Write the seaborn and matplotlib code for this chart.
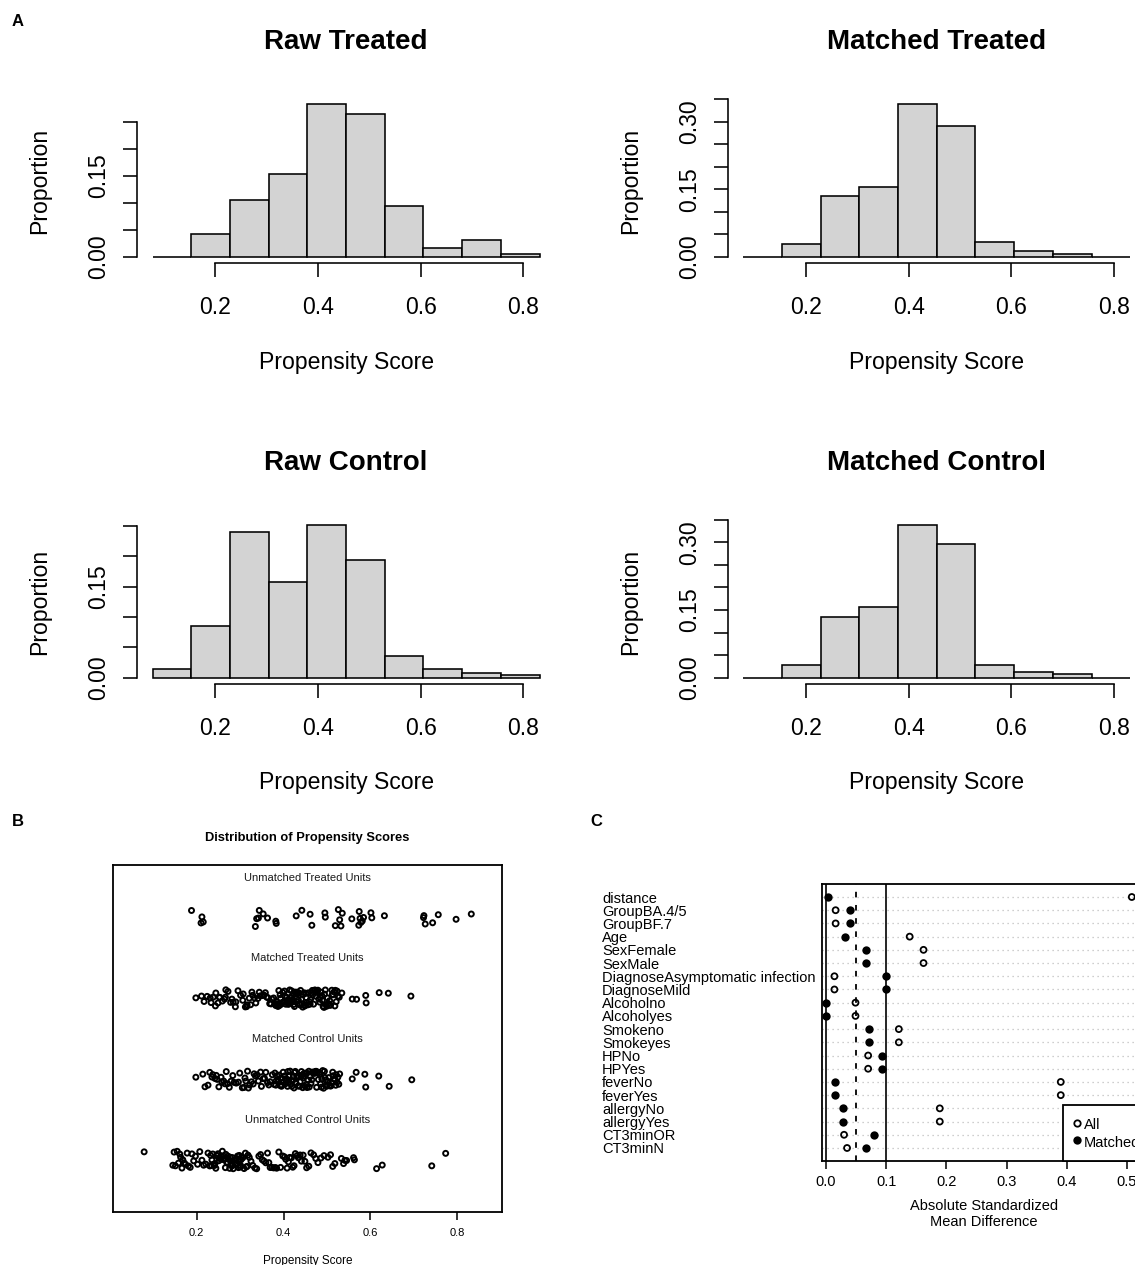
import numpy as np
import pandas as pd
import matplotlib
matplotlib.use("Agg")
import matplotlib.pyplot as plt
import seaborn as sns
from matplotlib.lines import Line2D

sns.set_theme(style="ticks")
plt.rcParams.update({
    "font.family": ["Liberation Sans", "DejaVu Sans"],
    "axes.edgecolor": "black", "xtick.color": "black", "ytick.color": "black",
    "text.color": "black", "axes.labelcolor": "black",
})

# ---------------- data ----------------
score_range = [0.078, 0.8315]   # min / max propensity score = histogram break range
raw_treated     = [0.000, 0.042, 0.106, 0.153, 0.283, 0.265, 0.095, 0.016, 0.032, 0.005]
matched_treated = [0.000, 0.0275, 0.135, 0.156, 0.339, 0.290, 0.033, 0.0134, 0.0074, 0.000]
raw_control     = [0.014, 0.086, 0.239, 0.157, 0.251, 0.193, 0.036, 0.014, 0.0075, 0.0045]
matched_control = [0.000, 0.028, 0.135, 0.156, 0.338, 0.297, 0.028, 0.014, 0.008, 0.000]
hist_titles = ["Raw Treated", "Matched Treated", "Raw Control", "Matched Control"]
hist_xticks = [0.2, 0.4, 0.6, 0.8]

unmatched_treated_ps = [0.188, 0.210, 0.212, 0.215, 0.335, 0.338, 0.342, 0.344, 0.353, 0.363,
                        0.382, 0.383, 0.429, 0.442, 0.461, 0.465, 0.495, 0.496, 0.519, 0.526,
                        0.529, 0.532, 0.535, 0.557, 0.573, 0.574, 0.576, 0.578, 0.581, 0.584,
                        0.601, 0.603, 0.632, 0.722, 0.723, 0.726, 0.743, 0.756, 0.797, 0.832]
matched_treated_ps = [0.198, 0.211, 0.217, 0.224,
                      0.231, 0.233, 0.238, 0.243, 0.244, 0.249, 0.252, 0.253, 0.259, 0.264,
                      0.266, 0.267, 0.272, 0.278, 0.281, 0.284, 0.289, 0.290, 0.295, 0.301,
                      0.306, 0.307, 0.312, 0.315, 0.316, 0.321, 0.324, 0.327, 0.329, 0.333,
                      0.336, 0.341, 0.344, 0.346, 0.351, 0.355, 0.358, 0.361, 0.364, 0.368,
                      0.371, 0.373, 0.377,
                      0.381, 0.382, 0.384, 0.386, 0.387, 0.389, 0.391, 0.392, 0.393, 0.395,
                      0.397, 0.398, 0.401, 0.402, 0.403, 0.405, 0.407, 0.408, 0.409, 0.411,
                      0.413, 0.414, 0.416, 0.417, 0.418, 0.421, 0.422, 0.423, 0.425, 0.426,
                      0.428, 0.429, 0.431, 0.432, 0.434, 0.435, 0.436, 0.438, 0.439, 0.441,
                      0.442, 0.444, 0.445, 0.447, 0.448, 0.449, 0.451, 0.452, 0.454,
                      0.456, 0.457, 0.459, 0.461, 0.462, 0.464, 0.466, 0.467, 0.469, 0.471,
                      0.472, 0.474, 0.476, 0.477, 0.479, 0.481, 0.483, 0.484, 0.486, 0.488,
                      0.489, 0.491, 0.493, 0.494, 0.496, 0.498, 0.499, 0.501, 0.503, 0.505,
                      0.506, 0.508, 0.511, 0.512, 0.514, 0.516, 0.518, 0.519, 0.521, 0.523,
                      0.525, 0.528,
                      0.534, 0.558, 0.568, 0.589, 0.590, 0.620, 0.641, 0.693]
matched_control_ps = [0.198, 0.214, 0.219, 0.226,
                      0.230, 0.235, 0.237, 0.242, 0.245, 0.247, 0.251, 0.256, 0.258, 0.262,
                      0.265, 0.268, 0.271, 0.275, 0.279, 0.283, 0.286, 0.291, 0.296, 0.299,
                      0.305, 0.309, 0.311, 0.313, 0.317, 0.319, 0.322, 0.326, 0.330, 0.332,
                      0.335, 0.339, 0.342, 0.347, 0.349, 0.353, 0.356, 0.359, 0.363, 0.366,
                      0.369, 0.374, 0.378,
                      0.380, 0.382, 0.383, 0.385, 0.387, 0.388, 0.390, 0.392, 0.394, 0.395,
                      0.396, 0.399, 0.400, 0.402, 0.404, 0.405, 0.406, 0.409, 0.410, 0.412,
                      0.413, 0.415, 0.416, 0.418, 0.419, 0.420, 0.422, 0.424, 0.425, 0.427,
                      0.429, 0.430, 0.432, 0.433, 0.435, 0.437, 0.438, 0.440, 0.441, 0.443,
                      0.444, 0.446, 0.447, 0.448, 0.450, 0.451, 0.452, 0.453, 0.454,
                      0.456, 0.458, 0.459, 0.461, 0.463, 0.465, 0.466, 0.468, 0.470, 0.471,
                      0.473, 0.475, 0.476, 0.478, 0.480, 0.482, 0.483, 0.485, 0.487, 0.488,
                      0.490, 0.492, 0.494, 0.495, 0.497, 0.499, 0.500, 0.502, 0.504, 0.506,
                      0.507, 0.509, 0.511, 0.513, 0.514, 0.516, 0.518, 0.520, 0.521, 0.523,
                      0.525, 0.527, 0.529,
                      0.558, 0.567, 0.587, 0.589, 0.619, 0.643, 0.695]
unmatched_control_ps = [0.079, 0.145, 0.148, 0.151,
                        0.155, 0.158, 0.161, 0.163, 0.166, 0.168, 0.171, 0.174, 0.178, 0.181,
                        0.185, 0.189, 0.193, 0.197, 0.202, 0.207, 0.212, 0.216, 0.221, 0.226,
                        0.230, 0.232, 0.234, 0.235, 0.237, 0.239, 0.241, 0.242, 0.244, 0.246,
                        0.247, 0.249, 0.251, 0.252, 0.254, 0.256, 0.257, 0.259, 0.261, 0.262,
                        0.264, 0.266, 0.267, 0.269, 0.271, 0.272, 0.274, 0.276, 0.277, 0.279,
                        0.281, 0.282, 0.284, 0.286, 0.287, 0.289, 0.291, 0.292, 0.294, 0.296,
                        0.297, 0.298, 0.299, 0.300, 0.301, 0.302, 0.303,
                        0.306, 0.309, 0.312, 0.314, 0.316, 0.318, 0.321, 0.325, 0.329, 0.334,
                        0.338, 0.343, 0.347, 0.351, 0.355, 0.359, 0.363, 0.366, 0.369, 0.373,
                        0.377,
                        0.381, 0.384, 0.389, 0.393, 0.398, 0.402, 0.405, 0.408, 0.411, 0.414,
                        0.418, 0.421, 0.424, 0.427, 0.431, 0.434, 0.438, 0.441, 0.445, 0.449,
                        0.453,
                        0.458, 0.463, 0.469, 0.474, 0.479, 0.486, 0.493, 0.502, 0.508, 0.513,
                        0.518,
                        0.533, 0.538, 0.541, 0.545, 0.561, 0.563, 0.614, 0.627, 0.741, 0.773]
jitter_groups = ["Unmatched Treated Units", "Matched Treated Units",
                 "Matched Control Units", "Unmatched Control Units"]
jitter_xticks = [0.2, 0.4, 0.6, 0.8]

covariates = ["distance", "GroupBA.4/5", "GroupBF.7", "Age", "SexFemale", "SexMale",
              "DiagnoseAsymptomatic infection", "DiagnoseMild", "Alcoholno", "Alcoholyes",
              "Smokeno", "Smokeyes", "HPNo", "HPYes", "feverNo", "feverYes",
              "allergyNo", "allergyYes", "CT3minOR", "CT3minN"]
smd_all = [0.508, 0.016, 0.016, 0.139, 0.162, 0.162, 0.014, 0.014, 0.049, 0.049,
           0.121, 0.121, 0.070, 0.070, 0.390, 0.390, 0.189, 0.189, 0.030, 0.035]
smd_matched = [0.003, 0.040, 0.040, 0.032, 0.067, 0.067, 0.099, 0.099, 0.000, 0.000,
               0.071, 0.071, 0.093, 0.093, 0.015, 0.015, 0.028, 0.028, 0.080, 0.066]
love_xticks = [0.0, 0.1, 0.2, 0.3, 0.4, 0.5]
threshold_dashed = 0.05
threshold_solid = 0.1

# ---------------- figure ----------------
W, H = 1135, 1265
fig = plt.figure(figsize=(W / 100, H / 100), dpi=100)
fig.patch.set_facecolor("white")


def px_axes(l, t, r, b):
    return fig.add_axes([l / W, 1 - b / H, (r - l) / W, (b - t) / H])


# ---------- Panel A: histograms ----------
edges = [float(e) for e in np.linspace(score_range[0], score_range[1], 11)]
mids = [(a + b) / 2 for a, b in zip(edges[:-1], edges[1:])]
span = score_range[1] - score_range[0]
hist_data = [raw_treated, matched_treated, raw_control, matched_control]
col_left = [137.2, 727.9]
row_top = [98.0, 519.0]
AX_W, AX_H = 417.8, 165.0
FS = 16.6
LW = 1.15

for i, (props, title) in enumerate(zip(hist_data, hist_titles)):
    r, c = divmod(i, 2)
    l, t = col_left[c], row_top[r]
    ax = px_axes(l, t, l + AX_W, t + AX_H)
    hdf = pd.DataFrame({"score": mids, "prop": props})
    sns.histplot(data=hdf, x="score", weights="prop", bins=edges, ax=ax, color="#D3D3D3",
                 edgecolor="black", linewidth=LW, alpha=1.0)
    ymax = max(props)
    ax.set_xlim(score_range[0] - 0.04 * span, score_range[1] + 0.04 * span)
    ax.set_ylim(-0.04 * ymax, 1.04 * ymax)
    n_ticks = int(np.floor(1.04 * ymax / 0.05 + 1e-9)) + 1
    yt = [k * 0.05 for k in range(n_ticks)]
    ax.set_yticks(yt)
    ax.set_yticklabels([f"{v:.2f}" if k % 3 == 0 else "" for k, v in enumerate(yt)])
    ax.set_xticks(hist_xticks)
    ax.set_xticklabels([f"{v:.1f}" for v in hist_xticks])
    sns.despine(ax=ax)
    ax.spines["left"].set_bounds(0, yt[-1])
    ax.spines["bottom"].set_bounds(hist_xticks[0], hist_xticks[-1])
    for s in ("left", "bottom"):
        ax.spines[s].set_linewidth(LW)
    ax.tick_params(axis="both", length=10, width=LW, labelsize=FS, direction="out")
    ax.tick_params(axis="x", pad=14)
    ax.tick_params(axis="y", pad=9.4)
    for lab in ax.get_yticklabels():
        lab.set_rotation(90)
        lab.set_va("center")
    ax.set_xlabel("Propensity Score", fontsize=FS)
    ax.xaxis.set_label_coords(0.5, -0.6)
    ax.xaxis.label.set_va("center")
    ax.set_ylabel("Proportion", fontsize=FS)
    ax.yaxis.set_label_coords(-0.2326, 0.5)
    ax.yaxis.label.set_va("center")
    ax.set_title(title, fontsize=20, fontweight="bold", y=1 + 56 / AX_H, pad=0,
                 verticalalignment="center")

# ---------- Panel B: jitter plot ----------
jit_df = pd.DataFrame({
    "score": unmatched_treated_ps + matched_treated_ps + matched_control_ps + unmatched_control_ps,
    "group": ([jitter_groups[0]] * len(unmatched_treated_ps) + [jitter_groups[1]] * len(matched_treated_ps)
              + [jitter_groups[2]] * len(matched_control_ps) + [jitter_groups[3]] * len(unmatched_control_ps)),
})
axB = px_axes(113.3, 865.0, 501.7, 1212.3)
np.random.seed(7)
sns.stripplot(data=jit_df, x="score", y="group", order=jitter_groups, jitter=0.11,
              size=3.6, linewidth=1.4, color="black", edgecolor="black",
              facecolors="none", ax=axB)
axB.set_xlim(0.008, 0.902)
axB.set_ylim(3.648, -0.657)
axB.set_yticks([])
axB.set_ylabel("")
axB.set_xticks(jitter_xticks)
axB.set_xticklabels([f"{v:.1f}" for v in jitter_xticks])
axB.tick_params(axis="x", length=5.5, width=1.1, labelsize=8, pad=6.0)
for s in axB.spines.values():
    s.set_visible(True)
    s.set_linewidth(1.3)
for k, g in enumerate(jitter_groups):
    axB.text(0.5, k - 0.5, g, transform=axB.get_yaxis_transform(), ha="center",
             va="center", fontsize=8, color="#1a1a1a")
axB.set_xlabel("Propensity Score", fontsize=8.5)
axB.xaxis.set_label_coords(0.5, -(1261 - 1212.3) / 347.3)
axB.xaxis.label.set_va("center")
axB.set_title("Distribution of Propensity Scores", fontsize=9.3, fontweight="bold",
              y=1 + 27 / 347.3, pad=0, verticalalignment="center")

# ---------- Panel C: love plot ----------
axC = px_axes(822.2, 883.8, 1146.0, 1161.2)
for k in range(len(covariates)):
    axC.axhline(k, color="#BEBEBE", linestyle=(0, (1, 3)), linewidth=0.9, zorder=0)
axC.axvline(0, color="black", linewidth=1.2, zorder=1)
axC.axvline(threshold_dashed, color="black", linewidth=1.3, linestyle=(0, (3.1, 4.2)), zorder=1)
axC.axvline(threshold_solid, color="black", linewidth=1.2, zorder=1)
sns.stripplot(x=smd_all, y=covariates, order=covariates, jitter=False, size=4.3,
              linewidth=1.3, color="black", edgecolor="black", facecolors="none", ax=axC)
sns.stripplot(x=smd_matched, y=covariates, order=covariates, jitter=False, size=6.0,
              linewidth=0, color="black", edgecolor="black", ax=axC)
axC.set_xlim(-0.0063, 0.5316)
axC.set_ylim(20, -1)
for s in axC.spines.values():
    s.set_visible(True)
    s.set_linewidth(1.3)
axC.set_xticks(love_xticks)
axC.set_xticklabels([f"{v:.1f}" for v in love_xticks])
axC.tick_params(axis="x", length=5.8, width=1.1, labelsize=10.5, pad=3.9)
axC.tick_params(axis="y", length=0, labelsize=10.5, pad=(822.2 - 602) * 0.72)
for lab in axC.get_yticklabels():
    lab.set_ha("left")
axC.set_xlabel("Absolute Standardized\nMean Difference", fontsize=10.5, linespacing=1.15)
axC.xaxis.set_label_coords(0.5, -(1214 - 1161.2) / 277.4)
axC.xaxis.label.set_va("center")
axC.set_ylabel("")
handles = [Line2D([], [], ls="", marker="o", mfc="none", mec="black", mew=1.3, ms=4.6),
           Line2D([], [], ls="", marker="o", mfc="black", mec="black", mew=0, ms=6.0)]
leg = axC.legend(handles, ["All", "Matched"], loc="lower left",
                 bbox_to_anchor=((1063.3 - 822.2) / 323.8, 0.0),
                 borderaxespad=0, frameon=True, fancybox=False, edgecolor="black",
                 framealpha=1, fontsize=10.5, handlelength=0.3, handleheight=1.15,
                 handletextpad=0.3, labelspacing=0.15, borderpad=0.8)
leg.get_frame().set_linewidth(1.3)

# ---------- panel letters ----------
for letter, x, y in [("A", 12, 22), ("B", 12, 822), ("C", 590, 822)]:
    fig.text(x / W, 1 - y / H, letter, fontsize=12, fontweight="bold", ha="left", va="center")

fig.savefig("out.png", dpi=100, facecolor="white")
